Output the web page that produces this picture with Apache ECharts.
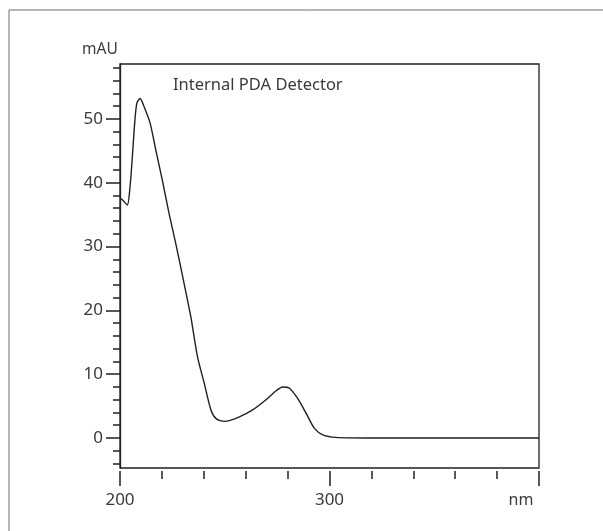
<!DOCTYPE html>
<html>
<head>
<meta charset="utf-8">
<script src="https://cdn.jsdelivr.net/npm/echarts@6/dist/echarts.min.js"></script>
<style>
html,body{margin:0;padding:0;background:#fff;}
#chart{width:603px;height:531px;}
</style>
</head>
<body>
<div id="chart"></div>
<script>
// Data (wavelength nm, absorbance mAU)
var wavelength = [200, 201.5, 203.5, 204.8, 205.9, 207, 208, 209.6, 211.5, 214.4, 217.1, 220.2, 223.4, 226.6, 230.6, 233.8, 237, 240.2, 243.4, 246, 249.8, 253, 257, 263.3, 269.7, 274.5, 277.6, 280.9, 284.8, 288.8, 292.8, 296.8, 303, 320, 340, 360, 380, 400];
var absorbance = [37.6, 37.2, 36.5, 39.4, 44.1, 49.3, 52.4, 53.2, 51.9, 49.3, 45.1, 40.4, 35.2, 30.5, 24.2, 19.0, 12.7, 8.6, 4.4, 3.0, 2.6, 2.8, 3.3, 4.4, 6.0, 7.4, 8.0, 7.8, 6.2, 3.9, 1.5, 0.5, 0.1, 0.0, 0.0, 0.0, 0.0, 0.0];

var yMajorTicks = [0, 10, 20, 30, 40, 50];
var yMinorTicks = [-4, -2, 0, 2, 4, 6, 8, 10, 12, 14, 16, 18, 20, 22, 24, 26, 28, 30, 32, 34, 36, 38, 40, 42, 44, 46, 48, 50, 52, 54, 56, 58];
var xMajorTicks = [200, 300, 400];
var xMinorTicks = [200, 220, 240, 260, 280, 300, 320, 340, 360, 380, 400];
var xLabelText = {200: '200', 300: '300', 400: 'nm'};
var yUnit = 'mAU';
var panelTitle = 'Internal PDA Detector';

var FONT = 'Noto Sans';
var TXT = '#3a3a3a';
var INK = '#231f20';

var chart = echarts.init(document.getElementById('chart'), null, {renderer: 'canvas'});

var points = wavelength.map(function (w, i) { return [w, absorbance[i]]; });

var option = {
  animation: false,
  backgroundColor: '#fff',
  grid: {left: 120, top: 64, right: 64, bottom: 63, show: true, borderColor: INK, borderWidth: 1.3, backgroundColor: 'transparent'},
  xAxis: [
    {
      type: 'value', min: 200, max: 400, offset: 3, position: 'bottom',
      axisLine: {show: false, onZero: false},
      splitLine: {show: false},
      axisTick: {show: true, length: 15, customValues: xMajorTicks, lineStyle: {color: INK, width: 1.5}},
      axisLabel: {
        show: true, customValues: xMajorTicks, margin: 21,
        fontFamily: FONT, fontSize: 17, color: TXT,
        formatter: function (v) { return v === 400 ? '{nm|' + xLabelText[v] + '}' : xLabelText[v]; },
        rich: {nm: {fontFamily: FONT, fontSize: 16, color: TXT, padding: [0, 36, 0, 0]}}
      }
    },
    {
      type: 'value', min: 200, max: 400, offset: 3, position: 'bottom',
      axisLine: {show: false, onZero: false},
      splitLine: {show: false},
      axisTick: {show: true, length: 8, customValues: xMinorTicks, lineStyle: {color: INK, width: 1.5}},
      axisLabel: {show: false}
    }
  ],
  yAxis: [
    {
      type: 'value', min: -4.7, max: 58.6, position: 'left',
      axisLine: {show: true, onZero: false, lineStyle: {color: INK, width: 1.3}},
      splitLine: {show: false},
      axisTick: {show: true, length: 14, customValues: yMajorTicks, lineStyle: {color: INK, width: 1.5}},
      axisLabel: {show: true, customValues: yMajorTicks, margin: 17, fontFamily: FONT, fontSize: 17, color: TXT}
    },
    {
      type: 'value', min: -4.7, max: 58.6, position: 'left',
      axisLine: {show: false, onZero: false},
      splitLine: {show: false},
      axisTick: {show: true, length: 7, customValues: yMinorTicks, lineStyle: {color: INK, width: 1.5}},
      axisLabel: {show: false}
    }
  ],
  graphic: [
    {type: 'rect', shape: {x: 9, y: 10, width: 700, height: 600}, style: {fill: 'none', stroke: '#6d6d6d', lineWidth: 1}, silent: true, z: -10},
    {type: 'text', left: 82, top: 42, style: {text: yUnit, font: '15.5px "' + FONT + '"', fill: TXT}},
    {type: 'text', left: 173, top: 77, style: {text: panelTitle, font: '16.5px "' + FONT + '"', fill: TXT}}
  ],
  series: [
    {
      type: 'line', xAxisIndex: 0, yAxisIndex: 0,
      data: points, showSymbol: false, smooth: 0.25,
      lineStyle: {color: INK, width: 1.4},
      clip: true
    }
  ]
};
chart.setOption(option);
</script>
</body>
</html>
